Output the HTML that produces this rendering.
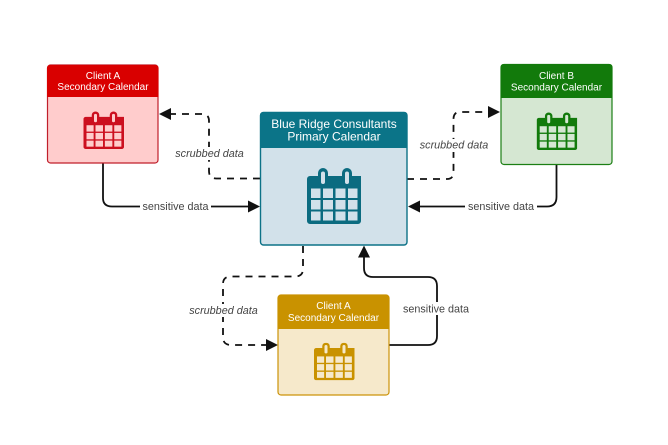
<!DOCTYPE html>
<html lang="en">
<head>
<meta charset="utf-8">
<title>Calendar data flow</title>
<style>
html,body{margin:0;padding:0;background:#fff}
svg{display:block;filter:blur(.35px)}
text{font-family:"Liberation Sans",sans-serif}
.t{fill:#fff;text-anchor:middle;font-size:10px}
.b{fill:#fff;text-anchor:middle;font-size:12px}
.l{fill:#444;font-size:10.8px;text-anchor:middle}
.i{font-style:italic}
.s{fill:none;stroke:#111;stroke-width:1.8}
.d{fill:none;stroke:#111;stroke-width:1.8;stroke-dasharray:7 6}
</style>
</head>
<body>
<svg width="668" height="445" viewBox="0 0 668 445" xmlns="http://www.w3.org/2000/svg">
<defs>
<symbol id="cal" viewBox="0 0 54 56" preserveAspectRatio="none">
<path d="M3 8H54V53a3 3 0 0 1-3 3H3a3 3 0 0 1-3-3V11a3 3 0 0 1 3-3z M0 11a3 3 0 0 1 3-3H51a3 3 0 0 1 3 3V20H0z" fill="currentColor"/>
<rect x="11" y="0" width="10" height="18" rx="5" fill="currentColor"/>
<rect x="35" y="0" width="10" height="18" rx="5" fill="currentColor"/>
<rect x="14" y="3.500" width="4" height="12.500" rx="2" fill="var(--c)"/>
<rect x="38" y="3.500" width="4" height="12.500" rx="2" fill="var(--c)"/>
<g fill="var(--c)">
<rect x="4" y="20.500" width="9.500" height="9.500"/><rect x="16" y="20.500" width="10" height="9.500"/><rect x="28.500" y="20.500" width="10" height="9.500"/><rect x="41" y="20.500" width="9.500" height="9.500"/>
<rect x="4" y="32" width="9.500" height="9.500"/><rect x="16" y="32" width="10" height="9.500"/><rect x="28.500" y="32" width="10" height="9.500"/><rect x="41" y="32" width="9.500" height="9.500"/>
<rect x="4" y="43.500" width="9.500" height="9"/><rect x="16" y="43.500" width="10" height="9"/><rect x="28.500" y="43.500" width="10" height="9"/><rect x="41" y="43.500" width="9.500" height="9"/>
</g>
</symbol>
</defs>
<rect width="668" height="445" fill="#fff"/>

<!-- connectors -->
<path class="d" d="M260 178.500H216Q209 178.500 209 171V121Q209 114 202 114H170"/>
<polygon points="159,114 171,108 171,120" fill="#111"/>
<path class="s" d="M103 163V198Q103 206.500 112 206.500H250"/>
<polygon points="260,206.500 248,200.500 248,212.500" fill="#111"/>
<path class="d" d="M407 179H447Q453.500 179 453.500 172V119Q453.500 112 460 112H490"/>
<polygon points="500,112 488,106 488,118" fill="#111"/>
<path class="s" d="M556.500 164V197Q556.500 206.500 547 206.500H418"/>
<polygon points="408,206.500 420,200.500 420,212.500" fill="#111"/>
<path class="d" d="M303 246V269Q303 276.500 295 276.500H231Q223 276.500 223 284V337Q223 345 231 345H268"/>
<polygon points="278,345 266,339 266,351" fill="#111"/>
<path class="s" d="M389 345H428Q437 345 437 336V286Q437 277 428 277H373Q364 277 364 268V256"/>
<polygon points="364,245.500 358,257.500 370,257.500" fill="#111"/>

<!-- labels -->
<rect x="140" y="200" width="71" height="13" fill="#fff"/>
<text class="l" x="175.500" y="210">sensitive data</text>
<rect x="173" y="147" width="73" height="13" fill="#fff"/>
<text class="l i" x="209.500" y="157">scrubbed data</text>
<rect x="417" y="139" width="74" height="13" fill="#fff"/>
<text class="l i" x="454" y="148.500">scrubbed data</text>
<rect x="465" y="200" width="72" height="13" fill="#fff"/>
<text class="l" x="501" y="210">sensitive data</text>
<rect x="186" y="304" width="75" height="13" fill="#fff"/>
<text class="l i" x="223.500" y="314">scrubbed data</text>
<rect x="400" y="302" width="72" height="13" fill="#fff"/>
<text class="l" x="436" y="312.500">sensitive data</text>

<!-- red -->
<rect x="47.500" y="65" width="110.500" height="98" rx="3" fill="#ffcccc" stroke="#c01f2b" stroke-width="1.200"/>
<path d="M47 97V68a3 3 0 0 1 3-3H155.500a3 3 0 0 1 3 3V97z" fill="#d90000"/>
<text class="t" x="103" y="79">Client A</text>
<text class="t" x="103" y="90">Secondary Calendar</text>
<use href="#cal" x="83.500" y="111.500" width="40.500" height="37.500" color="#cc0f1f" style="--c:#ffcccc"/>

<!-- blue -->
<rect x="260.500" y="112.500" width="146.500" height="132.500" rx="3" fill="#d2e1ea" stroke="#0d7287" stroke-width="1.400"/>
<path d="M260 148V115a3 3 0 0 1 3-3H404.500a3 3 0 0 1 3 3V148z" fill="#0b7488"/>
<text class="b" x="334" y="128">Blue Ridge Consultants</text>
<text class="b" x="334" y="140.500">Primary Calendar</text>
<use href="#cal" x="307" y="168" width="54" height="56" color="#0b6b80" style="--c:#d2e1ea"/>

<!-- green -->
<rect x="501" y="64.500" width="111" height="100" rx="3" fill="#d5e7d2" stroke="#1c7f14" stroke-width="1.200"/>
<path d="M500.500 98V67a3 3 0 0 1 3-3H609.500a3 3 0 0 1 3 3V98z" fill="#127a0b"/>
<text class="t" x="556.500" y="79">Client B</text>
<text class="t" x="556.500" y="90.500">Secondary Calendar</text>
<use href="#cal" x="536.700" y="112.500" width="40.500" height="37.500" color="#127a0b" style="--c:#d5e7d2"/>

<!-- yellow -->
<rect x="278" y="295" width="111" height="100" rx="3" fill="#f6e9cb" stroke="#cc9309" stroke-width="1.200"/>
<path d="M277.500 329V298a3 3 0 0 1 3-3H386.500a3 3 0 0 1 3 3V329z" fill="#c99200"/>
<text class="t" x="333.500" y="309">Client A</text>
<text class="t" x="333.500" y="321">Secondary Calendar</text>
<use href="#cal" x="314" y="342.700" width="40.500" height="37.500" color="#c99200" style="--c:#f6e9cb"/>
</svg>
</body>
</html>
